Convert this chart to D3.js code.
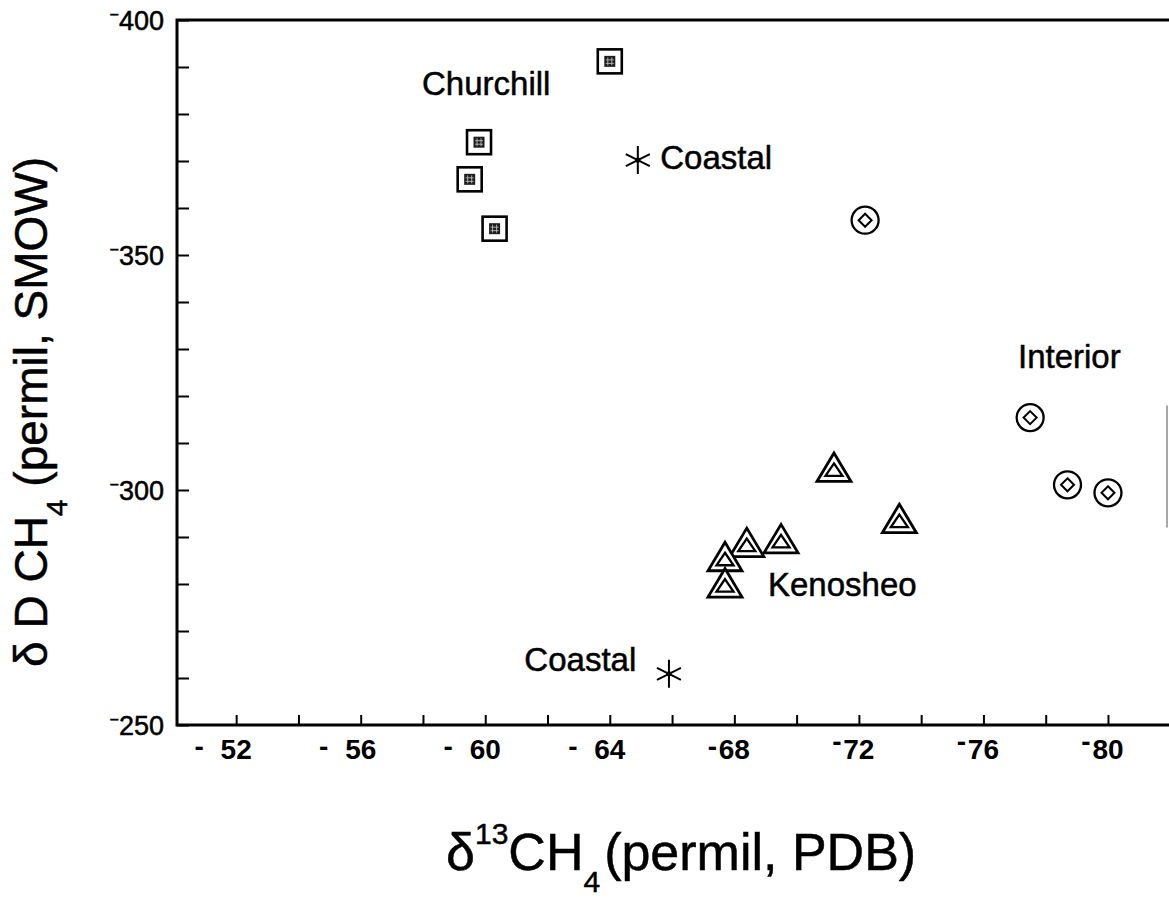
<!DOCTYPE html>
<html>
<head>
<meta charset="utf-8">
<script src="https://cdn.jsdelivr.net/npm/d3@7"></script>
<style>
  body { margin: 0; background: #fff; }
  text { font-family: "Liberation Sans", Arial, Helvetica, sans-serif; fill: #000; }
  .heavy { stroke: #000; stroke-width: 0.5px; }
</style>
</head>
<body>
<svg id="chart" width="1169" height="907"></svg>
<script>
// δ13C (permil, PDB) and δD (permil, SMOW) of methane by site
const churchillX = [-64.0, -59.8, -59.5, -60.3];
const churchillY = [-391.2, -374.0, -366.1, -355.6];

const coastalX = [-64.9, -65.9];
const coastalY = [-370.2, -260.9];

const kenosheoX = [-71.2, -73.3, -69.5, -68.4, -67.7, -67.7];
const kenosheoY = [-304.8, -293.9, -289.6, -288.8, -285.8, -280.2];

const interiorX = [-72.2, -77.5, -78.7, -80.0];
const interiorY = [-357.4, -315.4, -301.1, -299.4];

// axis ticks
const xTickValues = d3.range(-52, -81, -2);
const xTickLabels = [-52, -56, -60, -64, -68, -72, -76, -80];
const yTickValues = d3.range(-400, -249, 10);
const yTickLabels = [-400, -350, -300, -250];

// site annotations, anchored in data units
const siteNames = ["Churchill", "Coastal", "Coastal", "Kenosheo", "Interior"];
const siteNameX = [-57.97, -65.62, -64.85, -69.08, -77.11];
const siteNameY = [-384.0, -368.3, -261.5, -277.5, -325.9];
const siteNameAnchor = ["start", "start", "end", "start", "start"];

const svg = d3.select("#chart");
const box = { left: 177, right: 1169, top: 20, bottom: 725 };

const x = d3.scaleLinear().domain([-50.1, -81.96]).range([box.left, box.right]);
const y = d3.scaleLinear().domain([-250, -400]).range([box.bottom, box.top]);

const zip = (xs, ys) => xs.map((v, i) => ({ x: v, y: ys[i] }));

// ---- frame and ticks ----
const frame = svg.append("g").attr("stroke", "#000").attr("stroke-width", 3).attr("fill", "none");
frame.append("path")
  .attr("d", `M${box.right},${box.top}H${box.left}V${box.bottom}H${box.right}`)
  .attr("stroke-linecap", "square");
// right edge of the frame, only faintly printed
frame.append("line")
  .attr("x1", box.right - 2).attr("x2", box.right - 2)
  .attr("y1", y(-318)).attr("y2", y(-292))
  .attr("stroke", "#888").attr("stroke-width", 1.5);

svg.append("g")
  .attr("transform", `translate(0,${box.bottom})`)
  .call(d3.axisBottom(x).tickValues(xTickValues).tickSize(-10).tickFormat(""))
  .call(g => g.select(".domain").remove())
  .call(g => g.selectAll(".tick line").attr("stroke", "#000").attr("stroke-width", 2));

svg.append("g")
  .attr("transform", `translate(${box.left},0)`)
  .call(d3.axisLeft(y).tickValues(yTickValues).tickSize(-12).tickFormat(""))
  .call(g => g.select(".domain").remove())
  .call(g => g.selectAll(".tick line").attr("stroke", "#000").attr("stroke-width", 2));

// x tick labels: digits centred on the tick, minus sign set to the left
const xl = svg.append("g").attr("font-size", 28).attr("font-weight", "bold");
xTickLabels.forEach(v => {
  const cx = x(v);
  xl.append("text").attr("x", cx).attr("y", 759).attr("text-anchor", "middle")
    .text(String(Math.abs(v)));
  const far = v > -68;
  xl.append("text")
    .attr("x", cx - (far ? 37 : 22))
    .attr("y", v < -68 ? 751 : 756)
    .attr("text-anchor", "middle")
    .text("-");
});

// y tick labels with small raised minus
const yl = svg.append("g").attr("font-size", 27).attr("class", "heavy");
yTickLabels.forEach(v => {
  const t = yl.append("text").attr("x", 164).attr("y", y(v) + 10).attr("text-anchor", "end");
  t.append("tspan").attr("font-size", 16).attr("dy", -10).text("\u2212");
  t.append("tspan").attr("dy", 10).text(String(Math.abs(v)));
});

// ---- markers ----
const marks = svg.append("g");

// Churchill: boxed square with textured core
const sq = marks.selectAll("g.churchill").data(zip(churchillX, churchillY)).join("g")
  .attr("class", "churchill")
  .attr("transform", d => `translate(${x(d.x)},${y(d.y)})`);
sq.append("rect").attr("x", -12).attr("y", -12).attr("width", 24).attr("height", 24)
  .attr("fill", "#fff").attr("stroke", "#000").attr("stroke-width", 2.6);
sq.append("rect").attr("x", -5.5).attr("y", -5.5).attr("width", 11).attr("height", 11)
  .attr("fill", "#1c1c1c");
sq.append("path").attr("d", "M-2,-4V4M2,-4V4M-4,-1.5H4M-4,2H4")
  .attr("stroke", "#bbb").attr("stroke-width", 0.9);

// Coastal: asterisk
const ast = marks.selectAll("g.coastal").data(zip(coastalX, coastalY)).join("g")
  .attr("class", "coastal")
  .attr("transform", d => `translate(${x(d.x)},${y(d.y)})`);
ast.append("path")
  .attr("d", "M0,-14V14M-12,-6L12,6M-12,6L12,-6")
  .attr("stroke", "#000").attr("stroke-width", 2).attr("fill", "none");
ast.append("circle").attr("r", 2.6).attr("fill", "#000");

// Kenosheo: double triangle
const tri = marks.selectAll("g.kenosheo").data(zip(kenosheoX, kenosheoY)).join("g")
  .attr("class", "kenosheo")
  .attr("transform", d => `translate(${x(d.x)},${y(d.y)})`);
tri.append("path").attr("d", "M0,-14.5L17,14L-17,14Z")
  .attr("fill", "#fff").attr("stroke", "#000").attr("stroke-width", 2.8).attr("stroke-linejoin", "miter");
tri.append("path").attr("d", "M0,-4L8.5,8.5L-8.5,8.5Z")
  .attr("fill", "none").attr("stroke", "#000").attr("stroke-width", 2.3);

// Interior: circled diamond
const circ = marks.selectAll("g.interior").data(zip(interiorX, interiorY)).join("g")
  .attr("class", "interior")
  .attr("transform", d => `translate(${x(d.x)},${y(d.y)})`);
circ.append("circle").attr("r", 13.5).attr("fill", "#fff").attr("stroke", "#000").attr("stroke-width", 2.3);
circ.append("path").attr("d", "M0,-6.5L6.5,0L0,6.5L-6.5,0Z")
  .attr("fill", "none").attr("stroke", "#000").attr("stroke-width", 2);

// ---- site names ----
svg.append("g").attr("font-size", 33).attr("class", "heavy")
  .selectAll("text").data(siteNames).join("text")
  .attr("x", (d, i) => x(siteNameX[i]))
  .attr("y", (d, i) => y(siteNameY[i]))
  .attr("text-anchor", (d, i) => siteNameAnchor[i])
  .text(d => d);

// ---- axis titles ----
const yTitle = svg.append("text")
  .attr("class", "heavy")
  .attr("transform", "translate(47,412) rotate(-90)")
  .attr("text-anchor", "middle")
  .attr("font-size", 46);
yTitle.append("tspan").text("\u03B4 D CH");
yTitle.append("tspan").attr("font-size", 30).attr("dy", 20).text("4");
yTitle.append("tspan").attr("dy", -20).text(" (permil, SMOW)");

const xTitle = svg.append("text")
  .attr("class", "heavy")
  .attr("x", 446).attr("y", 870)
  .attr("font-size", 52);
xTitle.append("tspan").text("\u03B4");
xTitle.append("tspan").attr("font-size", 30).attr("dy", -26).text("13");
xTitle.append("tspan").attr("dy", 26).text("CH");
xTitle.append("tspan").attr("font-size", 30).attr("dy", 22).text("4");
xTitle.append("tspan").attr("dy", -22).attr("dx", 4).text("(permil, PDB)");
</script>
</body>
</html>
